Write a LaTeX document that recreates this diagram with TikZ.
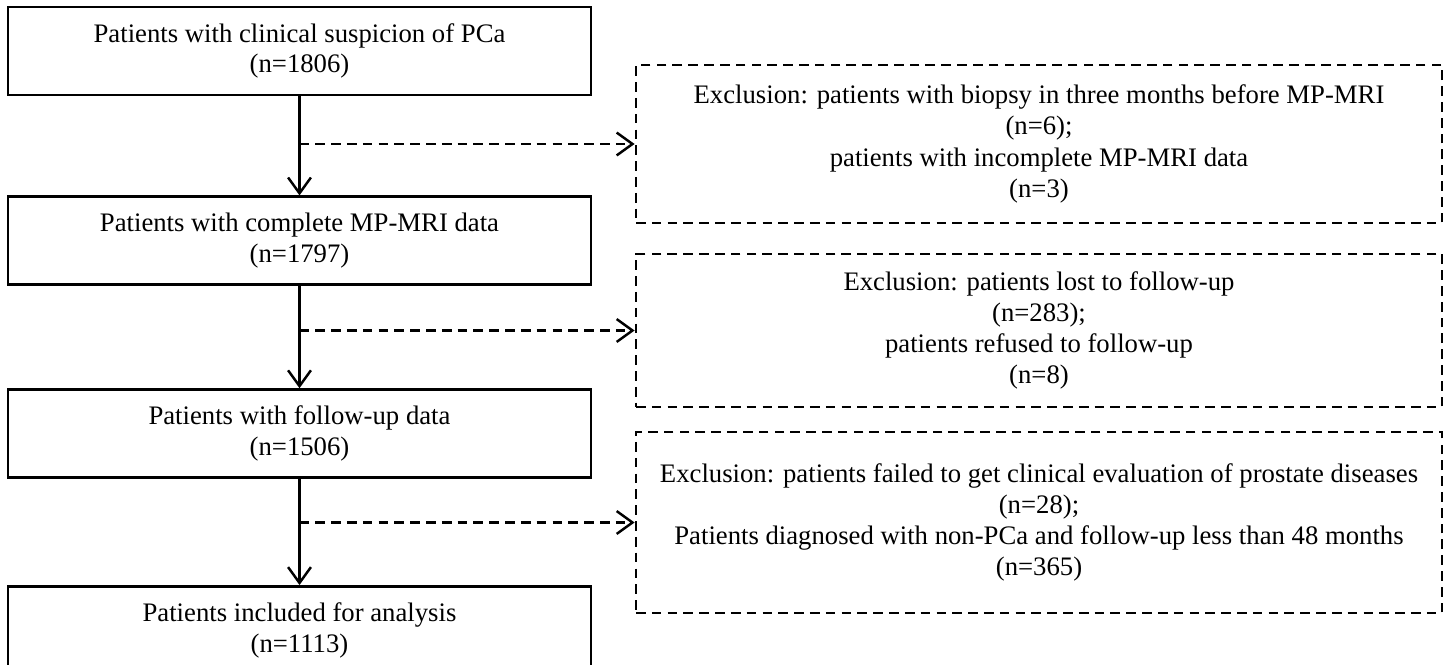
\documentclass[tikz,border=0pt]{standalone}
\usepackage{fontspec}
\setmainfont{Liberation Serif}
\usetikzlibrary{arrows.meta, positioning}

\begin{document}
\begin{tikzpicture}[
        node distance=2cm,
        stepbox/.style={rectangle, draw, line width=1.6pt, minimum width=11.66cm, minimum height=1.76cm, align=center, font=\fontsize{15.2}{17.5}\selectfont},
        exclbox/.style={rectangle, draw, dashed, dash pattern=on 5.5pt off 3.5pt, line width=1.6pt, minimum width=16.12cm, align=center, font=\fontsize{15.2}{17.8}\selectfont},
        flow/.style={-{Straight Barb[length=9pt,width=13pt]}, line width=1.4pt},
        dashflow/.style={-{Straight Barb[length=9pt,width=13pt]}, line width=1.4pt, dashed, dash pattern=on 5.5pt off 3.5pt}
    ]
        \clip (0,0) rectangle (28.96,-13.28);

        % Main flow
        \node[stepbox] (suspect) at (5.99,-1.02) {Patients with clinical suspicion of PCa\\(n=1806)};
        \node[stepbox, below=1.98cm of suspect] (complete) {Patients with complete MP-MRI data\\(n=1797)};
        \node[stepbox, below=2.04cm of complete] (followup) {Patients with follow-up data\\(n=1506)};
        \node[stepbox, below=2.12cm of followup] (included) {Patients included for analysis\\(n=1113)};

        % Exclusions
        \node[exclbox, minimum height=3.16cm] (excl1) at (20.78,-2.88) {Exclusion: patients with biopsy in three months before MP-MRI\\(n=6);\\patients with incomplete MP-MRI data\\(n=3)};
        \node[exclbox, minimum height=3.06cm] (excl2) at (20.78,-6.61) {Exclusion: patients lost to follow-up\\(n=283);\\patients refused to follow-up\\(n=8)};
        \node[exclbox, minimum height=3.62cm] (excl3) at (20.78,-10.45) {Exclusion: patients failed to get clinical evaluation of prostate diseases\\(n=28);\\Patients diagnosed with non-PCa and follow-up less than 48 months\\(n=365)};

        % Arrows
        \draw[flow] (suspect) -- (complete);
        \draw[flow] (complete) -- (followup);
        \draw[flow] (followup) -- (included);
        \draw[dashflow] (suspect.south |- excl1.west) -- (excl1.west);
        \draw[dashflow] (complete.south |- excl2.west) -- (excl2.west);
        \draw[dashflow] (followup.south |- excl3.west) -- (excl3.west);

    \end{tikzpicture}
\end{document}
